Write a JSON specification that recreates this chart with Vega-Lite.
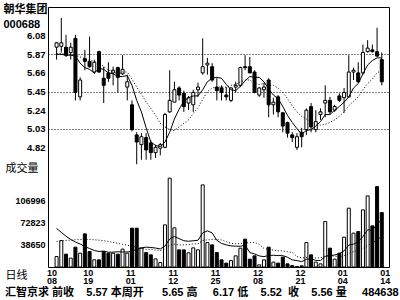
{
  "$schema": "https://vega.github.io/schema/vega-lite/v6.json",
  "width": 341,
  "height": 260,
  "autosize": {"type": "none"},
  "padding": {"left": 48, "top": 7, "right": 11, "bottom": 33},
  "background": "white",
  "title": {
    "text": "汇智京求\u00a0前收\u00a0\u00a0\u00a0\u00a05.57\u00a0本周开\u00a0\u00a0\u00a0\u00a0\u00a0\u00a05.65\u00a0高\u00a0\u00a0\u00a0\u00a0\u00a06.17\u00a0低\u00a0\u00a0\u00a0\u00a05.52\u00a0\u00a0收\u00a0\u00a0\u00a0\u00a05.56\u00a0量\u00a0\u00a0\u00a0\u00a0\u00a0484638",
    "orient": "bottom",
    "anchor": "start",
    "frame": "group",
    "dx": -43,
    "offset": 1,
    "font": "Liberation Sans, Noto Sans CJK SC",
    "fontSize": 11,
    "fontWeight": "bold",
    "color": "black"
  },
  "config": {
    "view": {"stroke": "black", "strokeWidth": 1},
    "axis": {"labelColor": "black", "titleColor": "black"}
  },
  "data": {
    "values": [
      {"i":0,"o":5.95,"h":6.01,"l":5.81,"c":6.00,"v":20599,"ma5":5.87,"ma10":5.88,"vma10":64000,"vma20":44000},
      {"i":1,"o":5.96,"h":6.28,"l":5.89,"c":6.00,"v":45284,"ma5":5.87,"ma10":5.88,"vma10":58000,"vma20":45000},
      {"i":2,"o":5.95,"h":6.09,"l":5.84,"c":5.86,"v":24302,"ma5":5.86,"ma10":5.87,"vma10":52000,"vma20":45500},
      {"i":3,"o":5.89,"h":6.00,"l":5.81,"c":5.95,"v":18131,"ma5":5.86,"ma10":5.87,"vma10":47000,"vma20":46000},
      {"i":4,"o":6.05,"h":6.09,"l":5.35,"c":5.44,"v":35102,"ma5":5.85,"ma10":5.86,"vma10":43000,"vma20":46500},
      {"i":5,"o":5.39,"h":5.61,"l":5.35,"c":5.58,"v":25845,"ma5":5.77,"ma10":5.84,"vma10":40000,"vma20":47000},
      {"i":6,"o":5.82,"h":5.92,"l":5.69,"c":5.79,"v":55621,"ma5":5.72,"ma10":5.82,"vma10":36000,"vma20":47000},
      {"i":7,"o":5.79,"h":6.07,"l":5.72,"c":5.73,"v":28313,"ma5":5.70,"ma10":5.80,"vma10":33000,"vma20":47000},
      {"i":8,"o":5.67,"h":5.81,"l":5.65,"c":5.78,"v":15508,"ma5":5.66,"ma10":5.79,"vma10":30000,"vma20":46500},
      {"i":9,"o":5.90,"h":5.91,"l":5.66,"c":5.67,"v":15508,"ma5":5.71,"ma10":5.78,"vma10":28421,"vma20":46000},
      {"i":10,"o":5.60,"h":5.73,"l":5.32,"c":5.52,"v":28313,"ma5":5.70,"ma10":5.73,"vma10":29193,"vma20":45000},
      {"i":11,"o":5.66,"h":5.78,"l":5.56,"c":5.60,"v":25845,"ma5":5.66,"ma10":5.69,"vma10":27249,"vma20":44000},
      {"i":12,"o":5.66,"h":5.73,"l":5.52,"c":5.69,"v":25845,"ma5":5.65,"ma10":5.68,"vma10":27403,"vma20":42500},
      {"i":13,"o":5.72,"h":5.73,"l":5.44,"c":5.61,"v":24302,"ma5":5.62,"ma10":5.64,"vma10":28020,"vma20":41000},
      {"i":14,"o":5.65,"h":5.86,"l":5.64,"c":5.70,"v":32016,"ma5":5.62,"ma10":5.67,"vma10":27712,"vma20":39500},
      {"i":15,"o":5.50,"h":5.64,"l":5.35,"c":5.56,"v":25845,"ma5":5.63,"ma10":5.67,"vma10":27712,"vma20":38000},
      {"i":16,"o":5.30,"h":5.35,"l":5.00,"c":5.02,"v":64414,"ma5":5.52,"ma10":5.59,"vma10":28591,"vma20":36500},
      {"i":17,"o":4.96,"h":4.99,"l":4.63,"c":4.88,"v":64414,"ma5":5.35,"ma10":5.50,"vma10":32201,"vma20":35000},
      {"i":18,"o":4.85,"h":4.98,"l":4.68,"c":4.94,"v":33559,"ma5":5.22,"ma10":5.42,"vma10":34006,"vma20":33500},
      {"i":19,"o":4.93,"h":4.98,"l":4.68,"c":4.79,"v":26770,"ma5":5.04,"ma10":5.33,"vma10":35132,"vma20":31777},
      {"i":20,"o":4.87,"h":4.90,"l":4.68,"c":4.76,"v":23222,"ma5":4.88,"ma10":5.26,"vma10":34623,"vma20":31908},
      {"i":21,"o":4.76,"h":4.85,"l":4.70,"c":4.82,"v":17051,"ma5":4.84,"ma10":5.18,"vma10":33744,"vma20":30496},
      {"i":22,"o":4.81,"h":4.87,"l":4.73,"c":4.85,"v":11342,"ma5":4.83,"ma10":5.09,"vma10":32294,"vma20":29848},
      {"i":23,"o":4.82,"h":5.21,"l":4.81,"c":5.19,"v":69506,"ma5":4.88,"ma10":5.05,"vma10":36814,"vma20":32417},
      {"i":24,"o":5.22,"h":5.69,"l":5.21,"c":5.35,"v":141555,"ma5":4.99,"ma10":5.02,"vma10":47768,"vma20":37740},
      {"i":25,"o":5.33,"h":5.56,"l":5.33,"c":5.47,"v":64878,"ma5":5.14,"ma10":5.01,"vma10":51671,"vma20":39691},
      {"i":26,"o":5.49,"h":5.51,"l":5.35,"c":5.41,"v":30936,"ma5":5.25,"ma10":5.05,"vma10":48323,"vma20":38457},
      {"i":27,"o":5.43,"h":5.46,"l":5.22,"c":5.28,"v":30936,"ma5":5.34,"ma10":5.09,"vma10":44976,"vma20":38588},
      {"i":28,"o":5.32,"h":5.40,"l":5.24,"c":5.38,"v":26308,"ma5":5.38,"ma10":5.13,"vma10":44250,"vma20":39128},
      {"i":29,"o":5.30,"h":5.47,"l":5.22,"c":5.44,"v":34022,"ma5":5.40,"ma10":5.20,"vma10":44976,"vma20":40054},
      {"i":30,"o":5.47,"h":5.55,"l":5.39,"c":5.50,"v":30936,"ma5":5.40,"ma10":5.27,"vma10":45747,"vma20":40185},
      {"i":31,"o":5.66,"h":6.05,"l":5.64,"c":5.73,"v":131218,"ma5":5.47,"ma10":5.36,"vma10":57164,"vma20":45454},
      {"i":32,"o":5.75,"h":5.83,"l":5.64,"c":5.77,"v":42198,"ma5":5.56,"ma10":5.45,"vma10":60249,"vma20":46271},
      {"i":33,"o":5.73,"h":5.77,"l":5.56,"c":5.58,"v":38650,"ma5":5.60,"ma10":5.49,"vma10":57164,"vma20":46989},
      {"i":34,"o":5.50,"h":5.60,"l":5.35,"c":5.46,"v":26770,"ma5":5.61,"ma10":5.50,"vma10":45685,"vma20":46727},
      {"i":35,"o":5.49,"h":5.52,"l":5.35,"c":5.44,"v":15508,"ma5":5.60,"ma10":5.50,"vma10":40748,"vma20":46210},
      {"i":36,"o":5.41,"h":5.50,"l":5.35,"c":5.39,"v":10417,"ma5":5.53,"ma10":5.50,"vma10":38696,"vma20":43510},
      {"i":37,"o":5.35,"h":5.50,"l":5.33,"c":5.49,"v":14428,"ma5":5.47,"ma10":5.52,"vma10":37046,"vma20":41011},
      {"i":38,"o":5.50,"h":5.56,"l":5.44,"c":5.52,"v":21679,"ma5":5.46,"ma10":5.53,"vma10":36583,"vma20":40417},
      {"i":39,"o":5.52,"h":5.73,"l":5.50,"c":5.72,"v":33559,"ma5":5.51,"ma10":5.56,"vma10":36536,"vma20":40756},
      {"i":40,"o":5.73,"h":5.86,"l":5.69,"c":5.72,"v":47444,"ma5":5.57,"ma10":5.58,"vma10":38187,"vma20":41967},
      {"i":41,"o":5.73,"h":5.84,"l":5.66,"c":5.66,"v":16588,"ma5":5.62,"ma10":5.58,"vma10":26724,"vma20":41944},
      {"i":42,"o":5.67,"h":5.69,"l":5.43,"c":5.44,"v":21679,"ma5":5.61,"ma10":5.54,"vma10":24672,"vma20":42461},
      {"i":43,"o":5.41,"h":5.50,"l":5.39,"c":5.49,"v":7794,"ma5":5.61,"ma10":5.53,"vma10":21587,"vma20":39375},
      {"i":44,"o":5.47,"h":5.55,"l":5.38,"c":5.50,"v":15508,"ma5":5.56,"ma10":5.54,"vma10":20460,"vma20":33073},
      {"i":45,"o":5.58,"h":5.60,"l":5.16,"c":5.30,"v":35102,"ma5":5.48,"ma10":5.52,"vma10":22420,"vma20":31584},
      {"i":46,"o":5.30,"h":5.38,"l":5.19,"c":5.33,"v":11960,"ma5":5.41,"ma10":5.52,"vma10":22574,"vma20":30635},
      {"i":47,"o":5.39,"h":5.41,"l":5.16,"c":5.22,"v":10417,"ma5":5.37,"ma10":5.49,"vma10":22173,"vma20":29609},
      {"i":48,"o":5.21,"h":5.22,"l":4.99,"c":5.06,"v":19674,"ma5":5.28,"ma10":5.44,"vma10":21973,"vma20":29278},
      {"i":49,"o":5.10,"h":5.11,"l":4.93,"c":4.98,"v":9337,"ma5":5.18,"ma10":5.37,"vma10":19550,"vma20":28043},
      {"i":50,"o":4.96,"h":4.99,"l":4.88,"c":4.93,"v":6714,"ma5":5.10,"ma10":5.29,"vma10":15477,"vma20":26832},
      {"i":51,"o":4.82,"h":4.98,"l":4.79,"c":4.94,"v":5171,"ma5":5.03,"ma10":5.22,"vma10":14336,"vma20":20530},
      {"i":52,"o":4.99,"h":5.04,"l":4.82,"c":4.94,"v":6251,"ma5":4.97,"ma10":5.17,"vma10":12793,"vma20":18733},
      {"i":53,"o":5.02,"h":5.26,"l":4.96,"c":5.24,"v":42198,"ma5":5.01,"ma10":5.14,"vma10":16233,"vma20":18910},
      {"i":54,"o":5.28,"h":5.32,"l":4.99,"c":5.05,"v":23222,"ma5":5.02,"ma10":5.10,"vma10":17005,"vma20":18733},
      {"i":55,"o":5.02,"h":5.24,"l":4.99,"c":5.11,"v":11960,"ma5":5.06,"ma10":5.08,"vma10":14690,"vma20":18555},
      {"i":56,"o":5.19,"h":5.26,"l":5.13,"c":5.22,"v":9337,"ma5":5.11,"ma10":5.07,"vma10":14428,"vma20":18501},
      {"i":57,"o":5.32,"h":5.52,"l":5.16,"c":5.35,"v":74598,"ma5":5.19,"ma10":5.08,"vma10":20846,"vma20":21510},
      {"i":58,"o":5.35,"h":5.39,"l":5.19,"c":5.22,"v":33559,"ma5":5.19,"ma10":5.10,"vma10":22235,"vma20":22104},
      {"i":59,"o":5.24,"h":5.30,"l":5.22,"c":5.28,"v":16588,"ma5":5.24,"ma10":5.13,"vma10":22960,"vma20":21255},
      {"i":60,"o":5.40,"h":5.43,"l":5.33,"c":5.35,"v":25845,"ma5":5.28,"ma10":5.17,"vma10":24873,"vma20":20175},
      {"i":61,"o":5.38,"h":5.49,"l":5.21,"c":5.44,"v":50530,"ma5":5.33,"ma10":5.22,"vma10":29409,"vma20":21872},
      {"i":62,"o":5.39,"h":5.86,"l":5.38,"c":5.67,"v":95271,"ma5":5.39,"ma10":5.29,"vma10":38311,"vma20":25552},
      {"i":63,"o":5.67,"h":5.72,"l":5.58,"c":5.69,"v":56701,"ma5":5.49,"ma10":5.34,"vma10":39761,"vma20":27997},
      {"i":64,"o":5.66,"h":5.78,"l":5.55,"c":5.56,"v":59169,"ma5":5.54,"ma10":5.39,"vma10":43356,"vma20":30180},
      {"i":65,"o":5.66,"h":5.98,"l":5.64,"c":5.89,"v":92648,"ma5":5.65,"ma10":5.47,"vma10":51425,"vma20":33058},
      {"i":66,"o":5.90,"h":6.03,"l":5.89,"c":5.94,"v":114247,"ma5":5.75,"ma10":5.54,"vma10":61916,"vma20":38172},
      {"i":67,"o":5.92,"h":5.98,"l":5.89,"c":5.90,"v":67963,"ma5":5.80,"ma10":5.59,"vma10":61252,"vma20":41049},
      {"i":68,"o":5.90,"h":6.17,"l":5.84,"c":5.85,"v":128595,"ma5":5.83,"ma10":5.66,"vma10":70756,"vma20":46495},
      {"i":69,"o":5.81,"h":5.89,"l":5.52,"c":5.56,"v":88482,"ma5":5.83,"ma10":5.69,"vma10":77555,"vma20":51558}
    ]
  },
  "encoding": {
    "x": {
      "field": "i",
      "type": "quantitative",
      "scale": {"domain": [-0.76, 69.47], "nice": false, "zero": false},
      "axis": {
        "values": [0, 6, 15, 24, 33, 42, 51, 60, 69],
        "labelExpr": "({'0':['10','08'],'6':['10','19'],'15':['11','01'],'24':['11','12'],'33':['11','25'],'42':['12','08'],'51':['12','21'],'60':['01','04'],'69':['01','14']})['' + datum.value]",
        "labelOffset": {"condition": {"test": "datum.value == 0", "value": -5}, "value": 3},
        "labelFont": "Liberation Sans",
        "labelFontSize": 9,
        "labelFontWeight": "bold",
        "labelLineHeight": 8.5,
        "labelBaseline": "top",
        "labelPadding": 1,
        "labelOverlap": false,
        "labelFlush": false,
        "labelBound": false,
        "ticks": false,
        "domain": false,
        "grid": false,
        "title": "日线",
        "titleFont": "Noto Sans CJK SC",
        "titleFontSize": 11,
        "titleFontWeight": "normal",
        "titleAlign": "left",
        "titleBaseline": "top",
        "titleAnchor": "start",
        "titleX": -43,
        "titleY": 2
      }
    }
  },
  "resolve": {"scale": {"y": "independent"}},
  "layer": [
    {
      "layer": [
        {
          "mark": {"type": "rule", "color": "black", "strokeWidth": 1},
          "encoding": {
            "y": {
              "field": "l",
              "type": "quantitative",
              "scale": {"domain": [3.4694, 6.404], "nice": false, "zero": false},
              "axis": {
                "orient": "left",
                "values": [4.82, 5.03, 5.24, 5.45, 5.66, 5.87, 6.08],
                "format": ".2f",
                "labelFont": "Liberation Sans",
                "labelFontSize": 9.5,
                "labelFontWeight": "bold",
                "labelPadding": 3,
                "ticks": false,
                "domain": false,
                "grid": true,
                "gridColor": "black",
                "gridDash": [1, 2],
                "gridOpacity": {"condition": {"test": "abs(datum.value-5.87)<0.001 || abs(datum.value-5.45)<0.001 || abs(datum.value-5.03)<0.001", "value": 1}, "value": 0},
                "title": ["朝华集团", "000688"],
                "titleFont": "Liberation Sans, Noto Sans CJK SC",
                "titleFontSize": 11,
                "titleFontWeight": "bold",
                "titleLineHeight": 15,
                "titleAngle": 0,
                "titleAlign": "left",
                "titleBaseline": "top",
                "titleX": -45,
                "titleY": -4
              }
            },
            "y2": {"field": "h"}
          }
        },
        {
          "mark": {"type": "bar", "size": 3, "stroke": "black", "strokeWidth": 1},
          "encoding": {
            "y": {"field": "o", "type": "quantitative"},
            "y2": {"field": "c"},
            "fill": {"condition": {"test": "datum.c >= datum.o", "value": "white"}, "value": "black"}
          }
        },
        {
          "mark": {"type": "line", "color": "black", "strokeWidth": 1},
          "encoding": {"y": {"field": "ma5", "type": "quantitative"}}
        },
        {
          "mark": {"type": "line", "color": "black", "strokeWidth": 1, "strokeDash": [1, 2]},
          "encoding": {"y": {"field": "ma10", "type": "quantitative"}}
        },
        {
          "data": {"values": [{"t": "sep"}]},
          "mark": {"type": "rule", "color": "black", "strokeWidth": 1},
          "encoding": {"y": {"datum": 4.6206, "type": "quantitative"}, "x": {"datum": -0.76, "type": "quantitative"}, "x2": {"datum": 69.47}}
        },
        {
          "data": {"values": [{"t": "—MA(5)=5.83 ····MA(10)=5.69"}]},
          "mark": {"type": "text", "align": "left", "baseline": "middle", "font": "DejaVu Sans Mono", "fontSize": 8, "fontWeight": "bold", "color": "black"},
          "encoding": {"x": {"datum": 1.71, "type": "quantitative"}, "y": {"datum": 6.336, "type": "quantitative"}, "text": {"field": "t"}}
        }
      ]
    },
    {
      "layer": [
        {
          "mark": {"type": "bar", "size": 3, "stroke": "black", "strokeWidth": 1},
          "encoding": {
            "y": {
              "field": "v",
              "type": "quantitative",
              "scale": {"domain": [4477, 405828], "nice": false, "zero": false},
              "axis": {
                "orient": "left",
                "values": [38650, 72823, 106996],
                "format": "d",
                "labelFont": "Liberation Sans",
                "labelFontSize": 9,
                "labelFontWeight": "bold",
                "labelPadding": 3,
                "ticks": false,
                "domain": false,
                "grid": false,
                "title": "成交量",
                "titleFont": "Noto Sans CJK SC",
                "titleFontSize": 11,
                "titleFontWeight": "normal",
                "titleAngle": 0,
                "titleAlign": "left",
                "titleBaseline": "top",
                "titleX": -43,
                "titleY": 155
              }
            },
            "y2": {"datum": 4477},
            "fill": {"condition": {"test": "datum.c >= datum.o", "value": "white"}, "value": "black"}
          }
        },
        {
          "mark": {"type": "line", "color": "black", "strokeWidth": 1},
          "encoding": {"y": {"field": "vma10", "type": "quantitative"}}
        },
        {
          "mark": {"type": "line", "color": "black", "strokeWidth": 1, "strokeDash": [1, 2]},
          "encoding": {"y": {"field": "vma20", "type": "quantitative"}}
        },
        {
          "data": {"values": [{"t": "—MA(10)=77555 ····MA(20)=51558"}]},
          "mark": {"type": "text", "align": "left", "baseline": "middle", "font": "DejaVu Sans Mono", "fontSize": 8, "fontWeight": "bold", "color": "black"},
          "encoding": {"x": {"datum": 1.71, "type": "quantitative"}, "y": {"datum": 146645, "type": "quantitative"}, "text": {"field": "t"}}
        }
      ]
    }
  ]
}
